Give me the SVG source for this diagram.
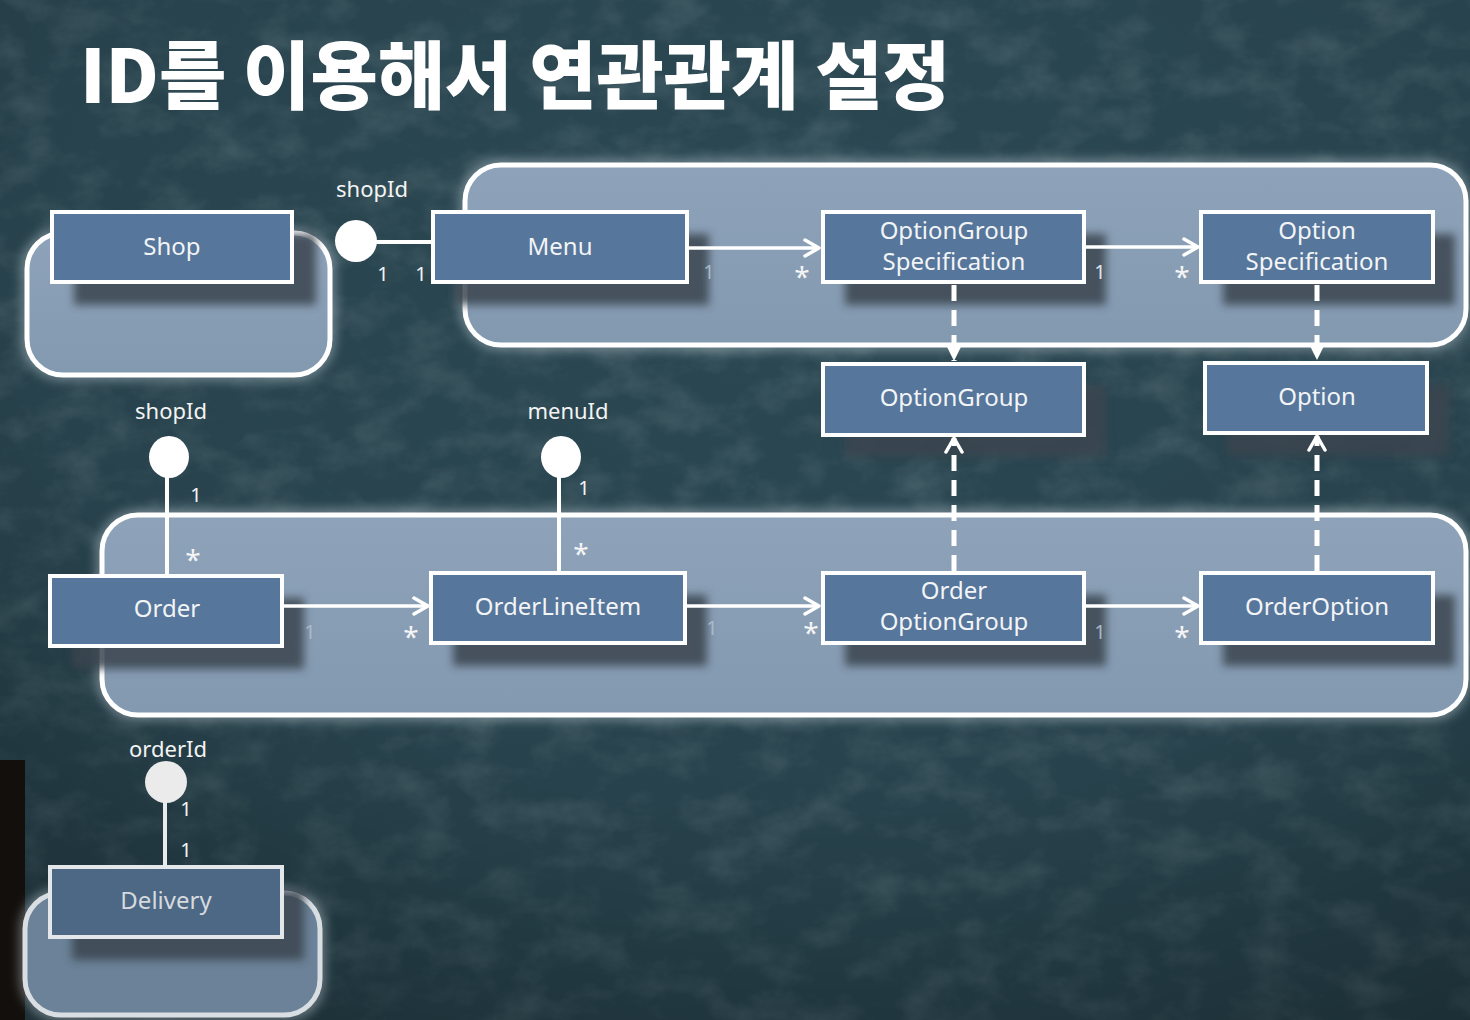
<svg xmlns="http://www.w3.org/2000/svg" width="1470" height="1020" viewBox="0 0 1470 1020">
<defs>
  <filter id="noise" x="0" y="0" width="100%" height="100%">
    <feTurbulence type="fractalNoise" baseFrequency="0.02 0.03" numOctaves="5" seed="7" result="t"/>
    <feColorMatrix in="t" type="matrix" values="0 0 0 0 0.7  0 0 0 0 0.82  0 0 0 0 0.82  0 0 0 1.2 -0.5"/>
  </filter>
  <filter id="shadow" x="-20%" y="-30%" width="140%" height="160%">
    <feGaussianBlur stdDeviation="4"/>
  </filter>
  <filter id="glow" x="-10%" y="-20%" width="120%" height="140%">
    <feGaussianBlur stdDeviation="6"/>
  </filter>
  <linearGradient id="aggFill" x1="0" y1="0" x2="0" y2="1">
    <stop offset="0" stop-color="#8ea3b9"/>
    <stop offset="1" stop-color="#8399b0"/>
  </linearGradient>
  <radialGradient id="vign" cx="0.55" cy="0.25" r="0.9">
    <stop offset="0" stop-color="#000" stop-opacity="0"/>
    <stop offset="0.6" stop-color="#000" stop-opacity="0.08"/>
    <stop offset="1" stop-color="#000" stop-opacity="0.38"/>
  </radialGradient>
  <marker id="open" viewBox="0 0 20 20" refX="17" refY="10" markerWidth="20" markerHeight="20" markerUnits="userSpaceOnUse" orient="auto">
    <path d="M3,2 L17,10 L3,18" fill="none" stroke="#ffffff" stroke-width="3.5" stroke-linecap="round" stroke-linejoin="round"/>
  </marker>
  <marker id="tri" viewBox="0 0 20 20" refX="18" refY="10" markerWidth="18" markerHeight="18" markerUnits="userSpaceOnUse" orient="auto">
    <path d="M2,2 L18,10 L2,18 Z" fill="#ffffff"/>
  </marker>
  <style>
    .agg { fill: url(#aggFill); stroke: #ffffff; stroke-width: 5; }
    .aggGlow { fill: none; stroke: #dfe9f0; stroke-width: 9; opacity: 0.5; }
    .box { fill: #56769b; stroke: #ffffff; stroke-width: 4; }
    .shd { fill: #3a4450; opacity: 0.85; }
    .lbl { font-family: "Noto Sans", "Noto Sans CJK KR", sans-serif; font-size: 24px; fill: #f2f4f6; text-anchor: middle; }
    .tag { font-family: "Noto Sans", "Noto Sans CJK KR", sans-serif; font-size: 22px; fill: #f4f4f4; text-anchor: middle; }
    .m { font-family: "Noto Sans", sans-serif; font-size: 20px; fill: #f4f4f4; text-anchor: middle; }
    .mf { font-family: "Noto Sans", sans-serif; font-size: 20px; fill: #aab8c8; text-anchor: middle; }
    .ast { font-family: "Noto Sans", sans-serif; font-size: 28px; fill: #f4f4f4; text-anchor: middle; }
    .solid { stroke: #ffffff; stroke-width: 3.5; fill: none; }
    .dash { stroke: #ffffff; stroke-width: 5; fill: none; stroke-dasharray: 16 9; }
    .stem { stroke: #ffffff; stroke-width: 4; fill: none; }
    .ball { fill: #ffffff; }
  </style>
</defs>

<!-- background -->
<rect x="0" y="0" width="1470" height="1020" fill="#2b4853"/>
<rect x="0" y="0" width="1470" height="1020" filter="url(#noise)" opacity="0.22"/>
<rect x="0" y="0" width="1470" height="1020" fill="url(#vign)"/>
<rect x="0" y="760" width="25" height="260" fill="#120f0c"/>

<!-- title -->
<text x="80" y="103" font-family="Noto Sans CJK KR, Noto Sans, sans-serif" font-weight="900" font-size="74" fill="#ffffff" textLength="870" lengthAdjust="spacingAndGlyphs">ID를 이용해서 연관관계 설정</text>

<!-- aggregate boundaries -->
<g id="aggregates">
  <rect class="aggGlow" x="27" y="233" width="303" height="142" rx="36" filter="url(#glow)"/>
  <rect class="agg" x="27" y="233" width="303" height="142" rx="36"/>
  <rect class="aggGlow" x="465" y="165" width="1001" height="180" rx="36" filter="url(#glow)"/>
  <rect class="agg" x="465" y="165" width="1001" height="180" rx="36"/>
  <rect class="aggGlow" x="102" y="515" width="1364" height="200" rx="36" filter="url(#glow)"/>
  <rect class="agg" x="102" y="515" width="1364" height="200" rx="36"/>
  <rect class="aggGlow" x="25" y="893" width="295" height="122" rx="36" filter="url(#glow)" opacity="0.25"/>
  <rect x="25" y="893" width="295" height="122" rx="36" fill="#6b8298" stroke="#d9dee3" stroke-width="5"/>
</g>

<!-- nodes -->
<g id="shop">
  <rect class="shd" x="74" y="234" width="242" height="71" filter="url(#shadow)"/>
  <rect class="box" x="52" y="212" width="240" height="70"/>
  <text class="lbl" x="172" y="255">Shop</text>
</g>
<g id="menu">
  <rect class="shd" x="455" y="234" width="254" height="71" filter="url(#shadow)"/>
  <rect class="box" x="433" y="212" width="254" height="70"/>
  <text class="lbl" x="560" y="255">Menu</text>
</g>
<g id="optionGroupSpecification">
  <rect class="shd" x="845" y="234" width="261" height="71" filter="url(#shadow)"/>
  <rect class="box" x="823" y="212" width="261" height="70"/>
  <text class="lbl" x="954" y="239">OptionGroup</text>
  <text class="lbl" x="954" y="270">Specification</text>
</g>
<g id="optionSpecification">
  <rect class="shd" x="1223" y="234" width="232" height="71" filter="url(#shadow)"/>
  <rect class="box" x="1201" y="212" width="232" height="70"/>
  <text class="lbl" x="1317" y="239">Option</text>
  <text class="lbl" x="1317" y="270">Specification</text>
</g>
<g id="optionGroup">
  <rect class="shd" x="845" y="386" width="261" height="71" filter="url(#shadow)" opacity="0.6"/>
  <rect class="box" x="823" y="364" width="261" height="71"/>
  <text class="lbl" x="954" y="406">OptionGroup</text>
</g>
<g id="option">
  <rect class="shd" x="1227" y="385" width="222" height="71" filter="url(#shadow)" opacity="0.6"/>
  <rect class="box" x="1205" y="363" width="222" height="70"/>
  <text class="lbl" x="1317" y="405">Option</text>
</g>
<g id="order">
  <rect class="shd" x="72" y="598" width="232" height="71" filter="url(#shadow)"/>
  <rect class="box" x="50" y="576" width="232" height="70"/>
  <text class="lbl" x="167" y="617">Order</text>
</g>
<g id="orderLineItem">
  <rect class="shd" x="453" y="595" width="254" height="71" filter="url(#shadow)"/>
  <rect class="box" x="431" y="573" width="254" height="70"/>
  <text class="lbl" x="558" y="615">OrderLineItem</text>
</g>
<g id="orderOptionGroup">
  <rect class="shd" x="845" y="595" width="261" height="71" filter="url(#shadow)"/>
  <rect class="box" x="823" y="573" width="261" height="70"/>
  <text class="lbl" x="954" y="599">Order</text>
  <text class="lbl" x="954" y="630">OptionGroup</text>
</g>
<g id="orderOption">
  <rect class="shd" x="1223" y="595" width="232" height="71" filter="url(#shadow)"/>
  <rect class="box" x="1201" y="573" width="232" height="70"/>
  <text class="lbl" x="1317" y="615">OrderOption</text>
</g>
<g id="delivery">
  <rect class="shd" x="72" y="889" width="232" height="71" filter="url(#shadow)" opacity="0.7"/>
  <rect x="50" y="867" width="232" height="70" fill="#4c6884" stroke="#e4e7ea" stroke-width="4"/>
  <text class="lbl" x="166" y="909" style="fill:#d6dadf">Delivery</text>
</g>

<!-- connectors -->
<g id="connectors">
  <!-- ID references -->
  <line class="stem" x1="370" y1="242" x2="433" y2="242"/>
  <circle class="ball" cx="356" cy="241" r="21"/>
  <text class="tag" x="372" y="197">shopId</text>
  <text class="m" x="383" y="281">1</text>
  <text class="m" x="421" y="281">1</text>

  <line class="stem" x1="167" y1="470" x2="167" y2="576"/>
  <ellipse class="ball" cx="169" cy="457" rx="20" ry="21"/>
  <text class="tag" x="171" y="419">shopId</text>
  <text class="m" x="196" y="502">1</text>
  <text class="ast" x="193" y="570">*</text>

  <line class="stem" x1="559" y1="470" x2="559" y2="573"/>
  <ellipse class="ball" cx="561" cy="457" rx="20" ry="21"/>
  <text class="tag" x="568" y="419">menuId</text>
  <text class="m" x="584" y="495">1</text>
  <text class="ast" x="581" y="564">*</text>

  <line x1="165" y1="795" x2="165" y2="867" stroke="#e8eaec" stroke-width="4"/>
  <circle cx="166" cy="782" r="21" fill="#ebebeb"/>
  <text class="tag" x="168" y="757">orderId</text>
  <text class="m" x="186" y="816">1</text>
  <text class="m" x="186" y="857">1</text>

  <!-- associations -->
  <line class="solid" x1="689" y1="248" x2="819" y2="248" marker-end="url(#open)"/>
  <text class="mf" x="709" y="279">1</text>
  <text class="ast" x="802" y="287">*</text>

  <line class="solid" x1="1086" y1="247" x2="1198" y2="247" marker-end="url(#open)"/>
  <text class="mf" x="1100" y="279" style="fill:#dfe5ec">1</text>
  <text class="ast" x="1182" y="287">*</text>

  <line class="solid" x1="284" y1="606" x2="428" y2="606" marker-end="url(#open)"/>
  <text class="mf" x="310" y="639">1</text>
  <text class="ast" x="411" y="647">*</text>

  <line class="solid" x1="687" y1="606" x2="819" y2="606" marker-end="url(#open)"/>
  <text class="mf" x="712" y="635">1</text>
  <text class="ast" x="811" y="643">*</text>

  <line class="solid" x1="1086" y1="606" x2="1198" y2="606" marker-end="url(#open)"/>
  <text class="mf" x="1100" y="639">1</text>
  <text class="ast" x="1182" y="647">*</text>

  <!-- dashed dependencies -->
  <line class="dash" x1="954" y1="285" x2="954" y2="361" marker-end="url(#tri)"/>
  <line class="dash" x1="1317" y1="285" x2="1317" y2="360" marker-end="url(#tri)"/>
  <line class="dash" x1="954" y1="571" x2="954" y2="438" marker-end="url(#open)"/>
  <line class="dash" x1="1317" y1="571" x2="1317" y2="436" marker-end="url(#open)"/>
</g>
</svg>
